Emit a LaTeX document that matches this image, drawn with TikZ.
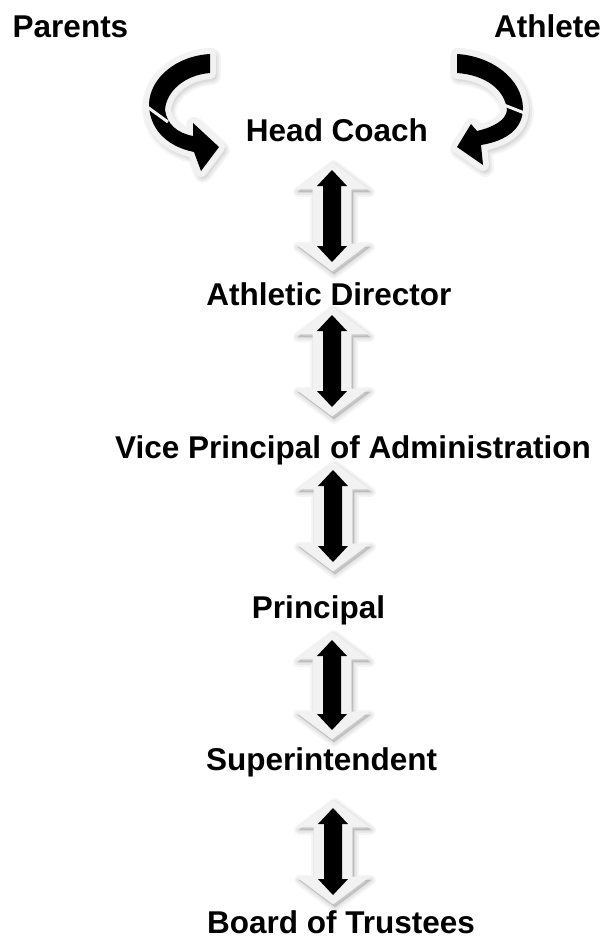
\documentclass[tikz,border=0pt]{standalone}
\usepackage{fontspec}
\setmainfont{Liberation Sans}
\definecolor{lightc}{HTML}{F2F2F2}
\newcommand\fsz[1]{\fontsize{#1}{#1}\selectfont\bfseries}
% vertical double arrow: cx, top tip, bottom tip
\newcommand\vdarr[3]{%
  \foreach \lw/\op in {10/0.04,6/0.05,2/0.06}{%
    \path[draw=black, fill=black, line width=\lw, opacity=\op, line join=round]
      ({#1+2},{#2-8+3}) -- ({#1+2+36},{#2-8+3+27}) -- ({#1+2+19},{#2-8+3+27}) -- ({#1+2+19},{#3+9+3-27}) -- ({#1+2+36},{#3+9+3-27}) -- ({#1+2},{#3+9+3}) -- ({#1+2-36},{#3+9+3-27}) -- ({#1+2-19},{#3+9+3-27}) -- ({#1+2-19},{#2-8+3+27}) -- ({#1+2-36},{#2-8+3+27}) -- cycle;}
  \path[fill=lightc, draw=black!6, line width=0.6]
    ({#1},{#2-8}) -- ({#1+36},{#2-8+27}) -- ({#1+19},{#2-8+27}) -- ({#1+19},{#3+9-27}) -- ({#1+36},{#3+9-27}) -- ({#1},{#3+9}) -- ({#1-36},{#3+9-27}) -- ({#1-19},{#3+9-27}) -- ({#1-19},{#2-8+27}) -- ({#1-36},{#2-8+27}) -- cycle;
  \path[fill=black]
    ({#1},{#2}) -- ({#1+15},{#2+16}) -- ({#1+9},{#2+16}) -- ({#1+9},{#3-16}) -- ({#1+15},{#3-16}) -- ({#1},{#3}) -- ({#1-15},{#3-16}) -- ({#1-9},{#3-16}) -- ({#1-9},{#2+16}) -- ({#1-15},{#2+16}) -- cycle;
}
\newcommand\lcshape[1]{\path[#1] (210,54) .. controls (176,56) and (150,78) .. (149,104) .. controls (149,126) and (164,146) .. (194,152) -- (201,171) -- (219,147) -- (193,123) -- (193,136) .. controls (177,133) and (167,124) .. (165,110) .. controls (166,92) and (184,75) .. (210,73) -- cycle;}
\newcommand\rcshape[1]{\path[#1] (457,54) .. controls (491,56) and (522,78) .. (523,108) .. controls (523,129) and (506,141) .. (481,145) -- (483,165) -- (457,147) -- (471,124) -- (477,131) .. controls (494,127) and (506,120) .. (507,110) .. controls (505,90) and (486,75) .. (457,73) -- cycle;}
\begin{document}
\begin{tikzpicture}[x=1pt,y=-1pt,
  lbl/.style={anchor=base, inner sep=0pt, outer sep=0pt, text=black, font=\fsz{31.5}}]
\useasboundingbox (0,0) rectangle (602,939);
% curved arrows
\foreach \lw/\op in {18/0.04,14/0.05,10/0.06}{%
  \lcshape{draw=black, line width=\lw, opacity=\op, line join=round, shift={(2,3)}}
  \rcshape{draw=black, line width=\lw, opacity=\op, line join=round, shift={(2,3)}}}
\lcshape{fill=lightc, draw=lightc, line width=12, line join=round}
\rcshape{fill=lightc, draw=lightc, line width=12, line join=round}
\lcshape{fill=black}
\rcshape{fill=black}
\draw[lightc, line width=3] (146,106) -- (168,122);
\draw[lightc, line width=3] (504,105) -- (527,114);
% labels
\node[lbl] (par) at (70.5,38) {Parents};
\node[lbl, anchor=base east] (ath) at (601,38) {Athlete};
\node[lbl] (hc) at (337,142) {Head Coach};
\node[lbl] (ad) at (329,305) {Athletic Director};
\node[lbl] (vp) at (353,458) {Vice Principal of Administration};
\node[lbl] (pr) at (318.5,618) {Principal};
\node[lbl] (su) at (321.5,770) {Superintendent};
\node[lbl] (bt) at (341,933) {Board of Trustees};
% vertical double arrows
\vdarr{332}{170}{262}
\vdarr{332}{315}{407}
\vdarr{333}{470}{562}
\vdarr{332}{640}{730}
\vdarr{333}{808}{895}
\end{tikzpicture}
\end{document}
